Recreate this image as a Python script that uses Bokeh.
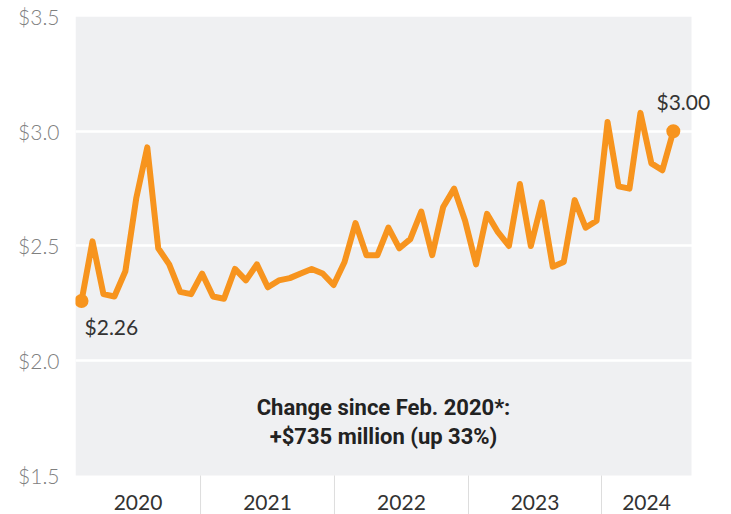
from bokeh.plotting import figure
from bokeh.models import FixedTicker, Label, NumeralTickFormatter, Range1d
from bokeh.core.properties import value
from bokeh.embed import file_html
from bokeh.resources import INLINE

# Monthly values, Feb. 2020 onward ($ billions)
values = [2.26, 2.52, 2.29, 2.28, 2.39, 2.71, 2.93, 2.49, 2.42, 2.30,
          2.29, 2.38, 2.28, 2.27, 2.40, 2.35, 2.42, 2.32, 2.35, 2.36,
          2.38, 2.40, 2.38, 2.33, 2.43, 2.60, 2.46, 2.46, 2.58, 2.49,
          2.53, 2.65, 2.46, 2.67, 2.75, 2.61, 2.42, 2.64, 2.56, 2.50,
          2.77, 2.50, 2.69, 2.41, 2.43, 2.70, 2.58, 2.61, 3.04, 2.76,
          2.75, 3.08, 2.86, 2.83, 3.00]
months = list(range(len(values)))
years = ["2020", "2021", "2022", "2023", "2024"]
year_bounds = [10.86, 23.08, 35.31, 47.45]   # start of each year on the month axis
y_ticks = [1.5, 2.0, 2.5, 3.0, 3.5]
grid_ticks = [2.0, 2.5, 3.0]
headline = ["Change since Feb. 2020*:", "+$735 million (up 33%)"]
first_label = "$2.26"
last_label = "$3.00"

ORANGE = "#F7941E"
GRAY_BG = "#EFF0F2"
x_lo, x_panel_hi, x_hi = -0.55, 55.66, 59.31
y_lo, y_panel_lo, y_hi = 1.33, 1.5, 3.5

p = figure(width=731, height=514, output_backend="svg", toolbar_location=None,
           x_range=Range1d(x_lo, x_hi), y_range=Range1d(y_lo, y_hi),
           x_axis_location=None,
           min_border_left=75, min_border_right=0, min_border_top=16,
           min_border_bottom=0)
p.background_fill_color = "white"
p.border_fill_color = "white"
p.outline_line_color = None

# grey chart panel
p.quad(left=[x_lo], right=[x_panel_hi], bottom=[y_panel_lo], top=[y_hi],
       fill_color=GRAY_BG, line_color=None, level="image")

# y axis
p.yaxis.ticker = FixedTicker(ticks=y_ticks)
p.yaxis.formatter = NumeralTickFormatter(format="$0.0")
p.yaxis.axis_line_color = None
p.yaxis.major_tick_line_color = None
p.yaxis.minor_tick_line_color = None
p.yaxis.major_tick_out = 0
p.yaxis.major_tick_in = 0
p.yaxis.major_label_standoff = 16
p.yaxis.major_label_text_font = "Lato Light"
p.yaxis.major_label_text_font_size = "21px"
p.yaxis.major_label_text_color = "#808080"

p.xgrid.visible = False
p.ygrid.ticker = FixedTicker(ticks=grid_ticks)
p.ygrid.grid_line_color = "white"
p.ygrid.grid_line_width = 2.5

# year separators and labels below the panel
p.segment(x0=year_bounds, x1=year_bounds, y0=[y_lo] * len(year_bounds),
          y1=[y_panel_lo] * len(year_bounds), line_color="#DDDDDD", line_width=1)
edges = [x_lo] + year_bounds + [x_panel_hi]
centers = [(edges[i] + edges[i + 1]) / 2 for i in range(len(years))]
p.text(x=centers, y=[1.382] * len(years), text=years, text_align="center",
       text_baseline="middle", text_font=value("Lato"), text_font_size="21px",
       text_color="#333333")

p.line(months, values, line_color=ORANGE, line_width=6, line_join="round")
p.scatter([months[0], months[-1]], [values[0], values[-1]], size=14,
          fill_color=ORANGE, line_color=None)

p.add_layout(Label(x=months[0], y=values[0], x_offset=3, y_offset=-25,
                   text=first_label, text_align="left", text_baseline="middle",
                   text_font="Lato", text_font_size="21px", text_color="#333333"))
p.add_layout(Label(x=months[-1], y=values[-1], x_offset=10, y_offset=30,
                   text=last_label, text_align="center", text_baseline="middle",
                   text_font="Lato", text_font_size="21px", text_color="#333333"))

xc = (x_lo + x_panel_hi) / 2
for txt, yy in zip(headline, [1.796, 1.670]):
    p.add_layout(Label(x=xc, y=yy, text=txt, text_align="center",
                       text_baseline="middle", text_font="Roboto",
                       text_font_style="bold", text_font_size="22px",
                       text_color="#222222"))

open("out.html", "w").write(file_html(p, INLINE))
